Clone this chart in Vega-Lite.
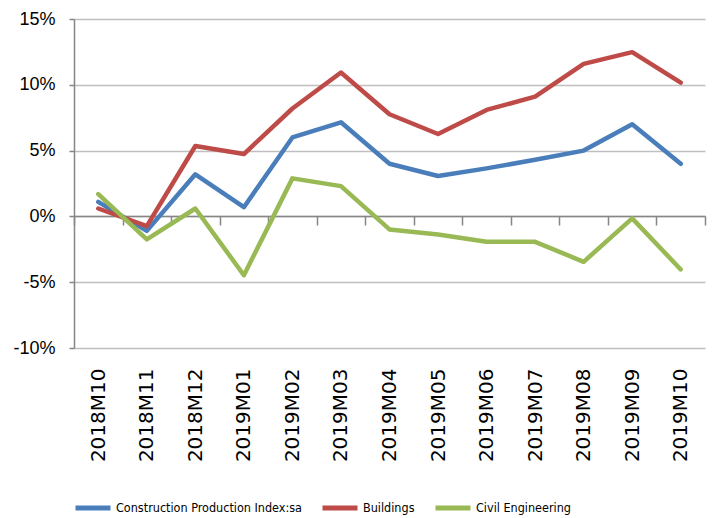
{
  "$schema": "https://vega.github.io/schema/vega-lite/v6.json",
  "width": 631,
  "height": 329,
  "autosize": {"type": "none"},
  "padding": {"left": 74, "top": 19, "right": 10, "bottom": 170},
  "background": "white",
  "config": {"view": {"stroke": null}},
  "data": {"values": [
    {"month": "2018M10", "series": "Construction Production Index:sa", "value": 1.1},
    {"month": "2018M11", "series": "Construction Production Index:sa", "value": -1.1},
    {"month": "2018M12", "series": "Construction Production Index:sa", "value": 3.2},
    {"month": "2019M01", "series": "Construction Production Index:sa", "value": 0.7},
    {"month": "2019M02", "series": "Construction Production Index:sa", "value": 6.0},
    {"month": "2019M03", "series": "Construction Production Index:sa", "value": 7.15},
    {"month": "2019M04", "series": "Construction Production Index:sa", "value": 4.0},
    {"month": "2019M05", "series": "Construction Production Index:sa", "value": 3.07},
    {"month": "2019M06", "series": "Construction Production Index:sa", "value": 3.65},
    {"month": "2019M07", "series": "Construction Production Index:sa", "value": 4.3},
    {"month": "2019M08", "series": "Construction Production Index:sa", "value": 5.0},
    {"month": "2019M09", "series": "Construction Production Index:sa", "value": 7.0},
    {"month": "2019M10", "series": "Construction Production Index:sa", "value": 4.0},
    {"month": "2018M10", "series": "Buildings", "value": 0.6},
    {"month": "2018M11", "series": "Buildings", "value": -0.74},
    {"month": "2018M12", "series": "Buildings", "value": 5.35},
    {"month": "2019M01", "series": "Buildings", "value": 4.74},
    {"month": "2019M02", "series": "Buildings", "value": 8.2},
    {"month": "2019M03", "series": "Buildings", "value": 10.93},
    {"month": "2019M04", "series": "Buildings", "value": 7.76},
    {"month": "2019M05", "series": "Buildings", "value": 6.26},
    {"month": "2019M06", "series": "Buildings", "value": 8.09},
    {"month": "2019M07", "series": "Buildings", "value": 9.1},
    {"month": "2019M08", "series": "Buildings", "value": 11.59},
    {"month": "2019M09", "series": "Buildings", "value": 12.48},
    {"month": "2019M10", "series": "Buildings", "value": 10.17},
    {"month": "2018M10", "series": "Civil Engineering", "value": 1.7},
    {"month": "2018M11", "series": "Civil Engineering", "value": -1.75},
    {"month": "2018M12", "series": "Civil Engineering", "value": 0.6},
    {"month": "2019M01", "series": "Civil Engineering", "value": -4.47},
    {"month": "2019M02", "series": "Civil Engineering", "value": 2.89},
    {"month": "2019M03", "series": "Civil Engineering", "value": 2.3},
    {"month": "2019M04", "series": "Civil Engineering", "value": -0.99},
    {"month": "2019M05", "series": "Civil Engineering", "value": -1.37},
    {"month": "2019M06", "series": "Civil Engineering", "value": -1.93},
    {"month": "2019M07", "series": "Civil Engineering", "value": -1.93},
    {"month": "2019M08", "series": "Civil Engineering", "value": -3.45},
    {"month": "2019M09", "series": "Civil Engineering", "value": -0.15},
    {"month": "2019M10", "series": "Civil Engineering", "value": -4.03}
  ]},
  "mark": {"type": "line", "strokeWidth": 4.5, "strokeJoin": "round", "strokeCap": "round"},
  "encoding": {
    "x": {
      "field": "month", "type": "ordinal", "sort": null, "bandPosition": 0.5,
      "scale": {"type": "band", "paddingInner": 0, "paddingOuter": 0},
      "axis": {
        "title": null, "orient": "bottom", "offset": -132, "tickBand": "extent",
        "domainColor": "#868686", "domainWidth": 1.5,
        "tickColor": "#868686", "tickSize": 9, "tickWidth": 1.5,
        "labelAngle": -90, "labelPadding": 143,
        "labelFont": "DejaVu Sans", "labelFontSize": 20, "labelColor": "black",
        "grid": false
      }
    },
    "y": {
      "field": "value", "type": "quantitative",
      "scale": {"domain": [-10, 15], "nice": false, "zero": false},
      "axis": {
        "title": null, "values": [-10, -5, 0, 5, 10, 15],
        "labelExpr": "datum.value + '%'",
        "grid": true, "gridColor": "#BFBFBF", "gridWidth": 1.5,
        "domainColor": "#868686", "domainWidth": 1.5,
        "tickColor": "#868686", "tickSize": 5, "tickWidth": 1.5,
        "labelPadding": 14, "labelFont": "Liberation Sans", "labelFontSize": 18, "labelColor": "black"
      }
    },
    "color": {
      "field": "series", "type": "nominal",
      "scale": {
        "domain": ["Construction Production Index:sa", "Buildings", "Civil Engineering"],
        "range": ["#4A7EBB", "#BE4B48", "#98B954"]
      },
      "legend": {
        "orient": "none", "legendX": -1, "legendY": 469, "direction": "horizontal",
        "title": null, "symbolType": "stroke", "symbolSize": 1225, "symbolStrokeWidth": 5,
        "labelFont": "DejaVu Sans Condensed", "labelFontSize": 12.5, "labelColor": "black",
        "columnPadding": 10, "labelOffset": 3, "labelLimit": 400
      }
    }
  }
}
